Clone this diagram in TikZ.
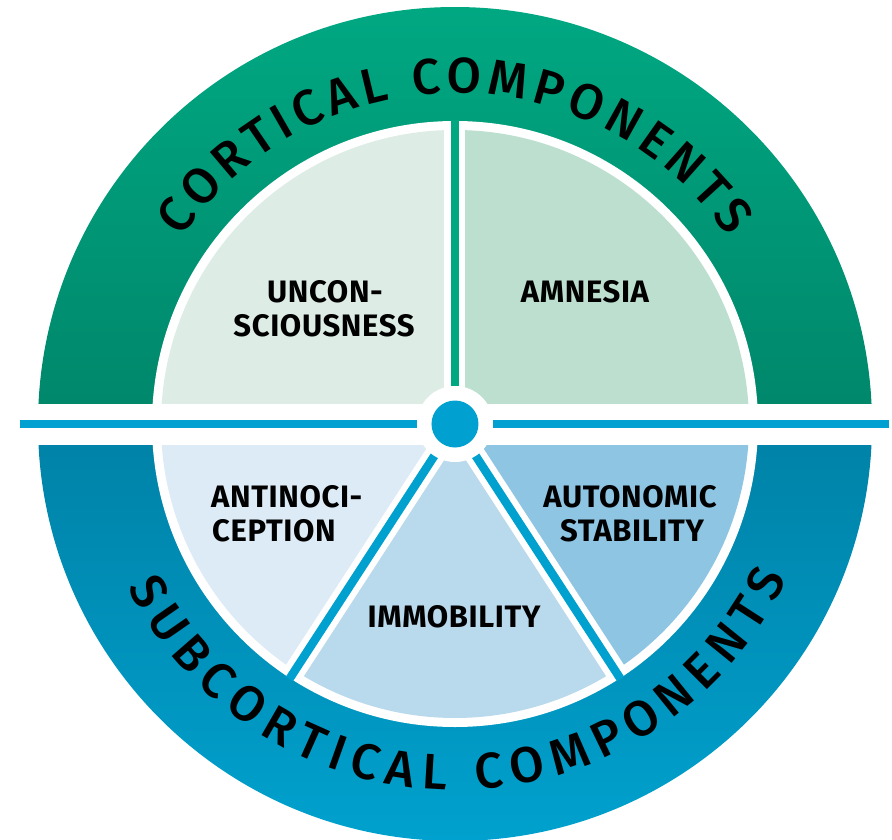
\documentclass[tikz,border=0pt]{standalone}
\usepackage{fontspec}
\setmainfont{Fira Sans}
\newfontfamily\ringfont{Fira Sans Medium}
\newfontfamily\labelfont[LetterSpace=2.0]{Fira Sans}
\usetikzlibrary{decorations.text}

\definecolor{greenTop}{HTML}{00A882}
\definecolor{greenBot}{HTML}{00866A}
\definecolor{blueTop}{HTML}{0081A6}
\definecolor{blueBot}{HTML}{00A1CE}
\definecolor{dotBlue}{HTML}{00A0D0}
\definecolor{secUncon}{HTML}{DDEDE6}
\definecolor{secAmnesia}{HTML}{BCDFCF}
\definecolor{secAnti}{HTML}{DCEBF6}
\definecolor{secImmob}{HTML}{B9D9EC}
\definecolor{secAuto}{HTML}{8EC5E3}

\tikzset{
  lbl/.style={font=\labelfont\bfseries\fontsize{31}{34}\selectfont, inner sep=0pt, text=black},
  gapline/.style={white, line width=21pt},
  divider/.style={line width=8.5pt},
  ringtext/.style={decorate, decoration={text along path,
      text={|\ringfont\fontsize{50}{60}\selectfont|#1},
      text align={fit to path}}}
}

\begin{document}
\begin{tikzpicture}[x=1pt,y=1pt]
\useasboundingbox (-455,-415) rectangle (437,424);

% outer ring: cortical half and subcortical half
\shade[top color=greenTop, bottom color=greenBot]
  (0,0) -- (0:417pt) arc[start angle=0, end angle=180, radius=417pt] -- cycle;
\shade[top color=blueTop, bottom color=blueBot]
  (0,0) -- (180:417pt) arc[start angle=180, end angle=360, radius=417pt] -- cycle;

% white band between ring and pie
\fill[white] (0,0) circle[radius=303pt];

% pie sectors
\fill[secAmnesia] (0,0) -- (0:294pt) arc[start angle=0, end angle=90, radius=294pt] -- cycle;
\fill[secUncon] (0,0) -- (90:294pt) arc[start angle=90, end angle=180, radius=294pt] -- cycle;
\fill[secAnti] (0,0) -- (180:294pt) arc[start angle=180, end angle=237, radius=294pt] -- cycle;
\fill[secImmob] (0,0) -- (237:294pt) arc[start angle=237, end angle=303, radius=294pt] -- cycle;
\fill[secAuto] (0,0) -- (303:294pt) arc[start angle=303, end angle=360, radius=294pt] -- cycle;

% dividers between sectors
\draw[gapline] (0,0) -- (90:300pt);
\draw[gapline] (0,0) -- (237:300pt);
\draw[gapline] (0,0) -- (303:300pt);
\draw[divider, greenTop] (0,0) -- (90:304pt);
\draw[divider, blueBot] (0,0) -- (237:304pt);
\draw[divider, blueBot] (0,0) -- (303:304pt);

% horizontal band and bar
\fill[white] (-420,-20.5) rectangle (420,20.5);
\fill[dotBlue] (-435,-4.25) rectangle (434,4.25);

% central hub
\fill[white] (0,0) circle[radius=38pt];
\node[circle, fill=dotBlue, minimum size=47pt, inner sep=0pt] (hub) at (0,0) {};

% ring captions
\path[ringtext={CORTICAL COMPONENTS}]
  (145.7:331pt) arc[start angle=145.7, end angle=34.3, radius=331pt];
\path[ringtext={SUBCORTICAL COMPONENTS}]
  (206.5:366pt) arc[start angle=206.5, end angle=335, radius=366pt];

% sector labels
\node[lbl, anchor=base] (uncon1) at (-130,122) {UNCON-};
\node[lbl, anchor=base] (uncon2) at (-131,88) {SCIOUSNESS};
\node[lbl, anchor=base] (amnesia) at (130,122) {AMNESIA};
\node[lbl, anchor=base west] (anti1) at (-244,-83) {ANTINOCI-};
\node[lbl, anchor=base west] (anti2) at (-243,-117) {CEPTION};
\node[lbl, anchor=base] (auto1) at (175,-83) {AUTONOMIC};
\node[lbl, anchor=base] (auto2) at (177,-117) {STABILITY};
\node[lbl, anchor=base] (immob) at (-1,-203) {IMMOBILITY};
\end{tikzpicture}
\end{document}
